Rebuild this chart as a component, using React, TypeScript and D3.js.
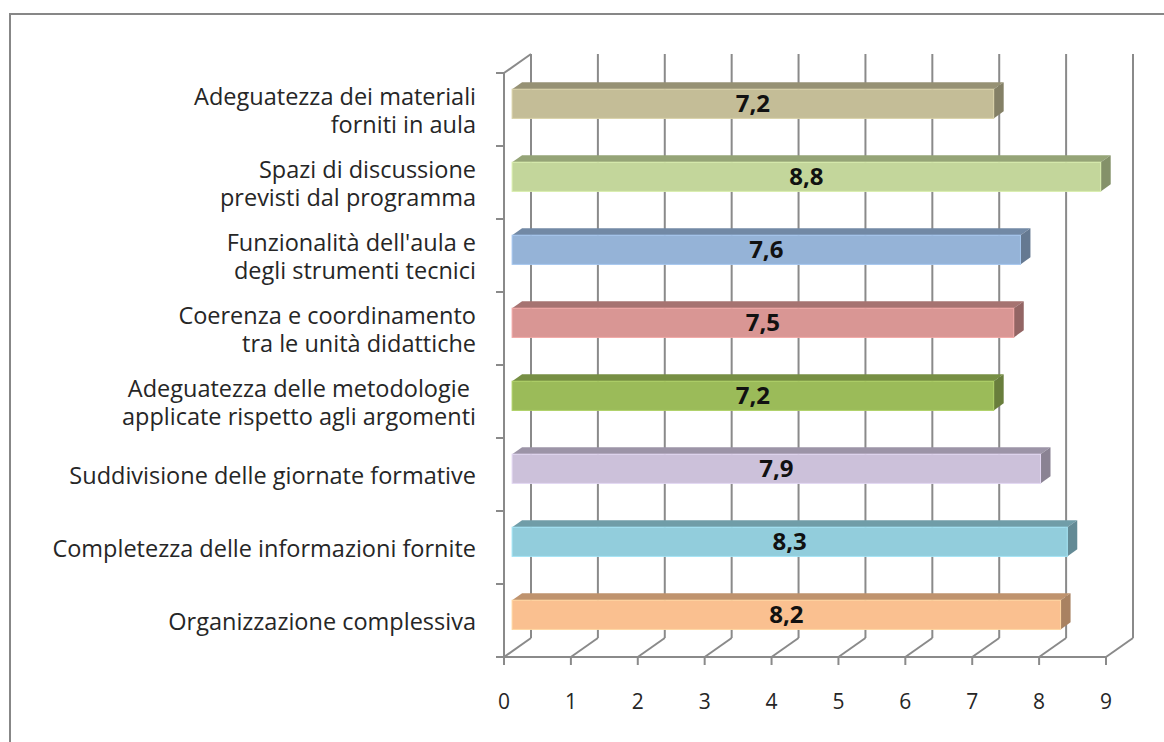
import React from "react";
import * as d3 from "d3";

const categories: string[][] = [
  ["Adeguatezza dei materiali", "forniti in aula"],
  ["Spazi di discussione", "previsti dal programma"],
  ["Funzionalità dell'aula e", "degli strumenti tecnici"],
  ["Coerenza e coordinamento", "tra le unità didattiche"],
  ["Adeguatezza delle metodologie ", "applicate rispetto agli argomenti"],
  ["Suddivisione delle giornate formative"],
  ["Completezza delle informazioni fornite"],
  ["Organizzazione complessiva"],
];
const values: number[] = [7.2, 8.8, 7.6, 7.5, 7.2, 7.9, 8.3, 8.2];
const colors: string[] = ["#C4BD97", "#C3D69B", "#95B3D7", "#D99694", "#9BBB59", "#CCC1DA", "#92CDDC", "#FAC090"];
const ticks: number[] = [0, 1, 2, 3, 4, 5, 6, 7, 8, 9];

const W = 1164;
const H = 742;
const DX = 27;
const DY = -19;
const F0 = 0.3;
const F1 = 0.67;
const FONT = "'Open Sans', Lato, sans-serif";

export default function App() {
  const x = d3.scaleLinear().domain([0, 9]).range([504, 1106]);
  const ids = categories.map((_, i) => String(i));
  const y = d3.scaleBand<string>().domain(ids).range([73, 657]).paddingInner(0.6).paddingOuter(0.3);
  const bw = y.bandwidth();
  const step = y.step();
  const top = 73, bottom = 657;
  const fmt = (v: number) => d3.format(".1f")(v).replace(".", ",");

  return (
    <svg width={W} height={H} style={{ position: "absolute", left: 0, top: 0, background: "#fff" }}>
      <rect x={10} y={14} width={W + 20} height={H + 20} fill="#fff" stroke="#878787" strokeWidth={2} />
      {ticks.map((t) => (
        <g key={"g" + t} stroke="#8a8a8a" strokeWidth={2} fill="none">
          <line x1={x(t) + DX} y1={top + DY} x2={x(t) + DX} y2={bottom + DY} />
          <line x1={x(t)} y1={bottom} x2={x(t) + DX} y2={bottom + DY} />
          <line x1={x(t)} y1={bottom} x2={x(t)} y2={bottom + 8} />
        </g>
      ))}
      <g stroke="#8a8a8a" strokeWidth={2} fill="none">
        <line x1={x(0)} y1={top} x2={x(0)} y2={bottom} />
        <line x1={x(0)} y1={top} x2={x(0) + DX} y2={top + DY} />
        <line x1={x(0)} y1={bottom} x2={x(9)} y2={bottom} />
        {d3.range(categories.length + 1).map((i) => (
          <line key={"lt" + i} x1={x(0) - 8} y1={top + i * step} x2={x(0)} y2={top + i * step} />
        ))}
      </g>
      {values.map((v, i) => {
        const yb = y(String(i)) as number;
        const c = colors[i];
        const x0 = x(0), xv = x(v);
        const ox0 = DX * F0, oy0 = DY * F0, ox1 = DX * F1, oy1 = DY * F1;
        const topPts = [
          [x0 + ox0, yb + oy0], [x0 + ox1, yb + oy1], [xv + ox1, yb + oy1], [xv + ox0, yb + oy0],
        ].map((p) => p.join(",")).join(" ");
        const sidePts = [
          [xv + ox0, yb + oy0], [xv + ox1, yb + oy1], [xv + ox1, yb + bw + oy1], [xv + ox0, yb + bw + oy0],
        ].map((p) => p.join(",")).join(" ");
        return (
          <g key={"b" + i}>
            <polygon points={topPts} fill={d3.color(c)!.darker(0.75).formatHex()} />
            <polygon points={sidePts} fill={d3.color(c)!.darker(1.1).formatHex()} />
            <rect x={x0 + ox0} y={yb + oy0} width={xv - x0} height={bw} fill={c} stroke={d3.color(c)!.brighter(0.3).formatHex()} strokeWidth={1} />
            <text x={(x0 + xv) / 2 + ox0} y={yb + oy0 + bw / 2} dy="0.36em" textAnchor="middle" fontFamily={FONT} fontWeight="bold" fontSize={24} fill="#111">
              {fmt(v)}
            </text>
          </g>
        );
      })}
      {categories.map((lines, i) => {
        const cy = top + (i + 0.5) * step + 1;
        const lh = 28;
        return (
          <text key={"c" + i} textAnchor="end" fontFamily={FONT} fontSize={23.5} fill="#262626" style={{ whiteSpace: "pre" }}>
            {lines.map((l, j) => (
              <tspan key={j} x={476} y={cy + (j - (lines.length - 1) / 2) * lh} dy="0.36em">{l}</tspan>
            ))}
          </text>
        );
      })}
      {ticks.map((t) => (
        <text key={"t" + t} x={x(t)} y={701} dy="0.36em" textAnchor="middle" fontFamily={FONT} fontSize={21} fill="#262626">
          {t}
        </text>
      ))}
    </svg>
  );
}
